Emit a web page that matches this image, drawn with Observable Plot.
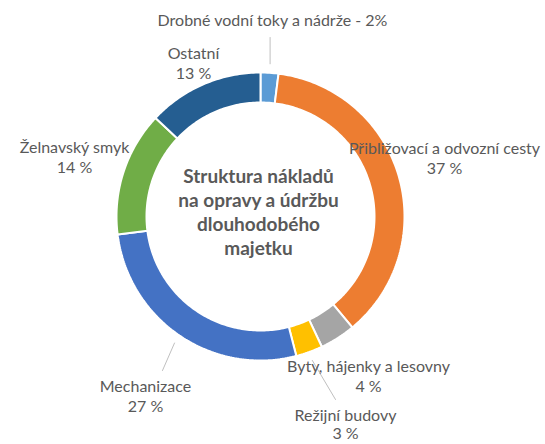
<!DOCTYPE html>
<html><head><meta charset="utf-8">
<script src="https://cdn.jsdelivr.net/npm/d3@7"></script>
<script src="https://cdn.jsdelivr.net/npm/@observablehq/plot@0.6"></script>
<style>body{margin:0;background:#fff;font-family:Lato,sans-serif}</style>
</head><body><div id="chart"></div>
<script>
const categories = ["Drobné vodní toky a nádrže", "Přibližovací a odvozní cesty", "Byty, hájenky a lesovny", "Režijní budovy", "Mechanizace", "Želnavský smyk", "Ostatní"];
const shares = [2, 37, 4, 3, 27, 14, 13];
const colors = ["#5B9BD5", "#ED7D31", "#A5A5A5", "#FFC000", "#4472C4", "#70AD47", "#255E91"];
const titleLines = ["Struktura nákladů", "na opravy a údržbu", "dlouhodobého", "majetku"];

// layout (not data)
const W = 545, H = 444, cx = 260, cy = 216, R = 144, r0 = 114;
const labelPos = {
  "Drobné vodní toky a nádrže": {x: 272, y: 20, single: true, leader: [37]},
  "Přibližovací a odvozní cesty": {x: 444, y: 148},
  "Byty, hájenky a lesovny": {x: 368, y: 366},
  "Režijní budovy": {x: 345, y: 415, gap: 18, leader: [335, 399]},
  "Mechanizace": {x: 145, y: 386, leader: [162, 370]},
  "Želnavský smyk": {x: 74, y: 147},
  "Ostatní": {x: 193, y: 53}
};

const data = categories.map((c, i) => ({cat: c, value: shares[i], color: colors[i]}));
const arcs = d3.pie().sort(null).value(d => d.value)(data);
const pt = (a, rad) => [cx + rad * Math.sin(a), cy - rad * Math.cos(a)];

const poly = [];
arcs.forEach(a => {
  const n = Math.max(8, Math.ceil((a.endAngle - a.startAngle) * 60));
  const pts = [];
  for (let k = 0; k <= n; k++) pts.push(pt(a.startAngle + (a.endAngle - a.startAngle) * k / n, R));
  for (let k = n; k >= 0; k--) pts.push(pt(a.startAngle + (a.endAngle - a.startAngle) * k / n, r0));
  pts.push(pts[0]);
  pts.forEach(p => poly.push({cat: a.data.cat, color: a.data.color, x: p[0], y: p[1]}));
});

const texts = [];
const leaders = [];
arcs.forEach(a => {
  const L = labelPos[a.data.cat];
  if (L.single) texts.push({x: L.x, y: L.y, t: `${a.data.cat} - ${a.data.value}%`});
  else {
    texts.push({x: L.x, y: L.y, t: a.data.cat});
    texts.push({x: L.x, y: L.y + (L.gap || 20), t: `${a.data.value} %`});
  }
  if (L.leader) {
    const mid = (a.startAngle + a.endAngle) / 2;
    const s = pt(mid, R + 9);
    const e = L.leader.length === 1 ? [s[0], L.leader[0]] : L.leader;
    leaders.push({cat: a.data.cat, x: s[0], y: s[1]}, {cat: a.data.cat, x: e[0], y: e[1]});
  }
});

const chart = Plot.plot({
  width: W, height: H, margin: 0,
  x: {domain: [0, W], range: [0, W], axis: null},
  y: {domain: [0, H], range: [0, H], axis: null},
  style: {fontFamily: "Lato, sans-serif", background: "#fff"},
  marks: [
    Plot.line(poly, {x: "x", y: "y", z: "cat", fill: "color", stroke: "#fff", strokeWidth: 2, strokeLinejoin: "miter"}),
    Plot.line(leaders, {x: "x", y: "y", z: "cat", stroke: "#bfbfbf", strokeWidth: 1}),
    Plot.text(texts, {x: "x", y: "y", text: "t", fontSize: 16, fill: "#595959"}),
    Plot.text(titleLines, {x: () => 258, y: (d, i) => 176 + i * 24, text: d => d, fontSize: 19, fontWeight: "bold", fill: "#595959"})
  ]
});
document.getElementById("chart").append(chart);
</script></body></html>
